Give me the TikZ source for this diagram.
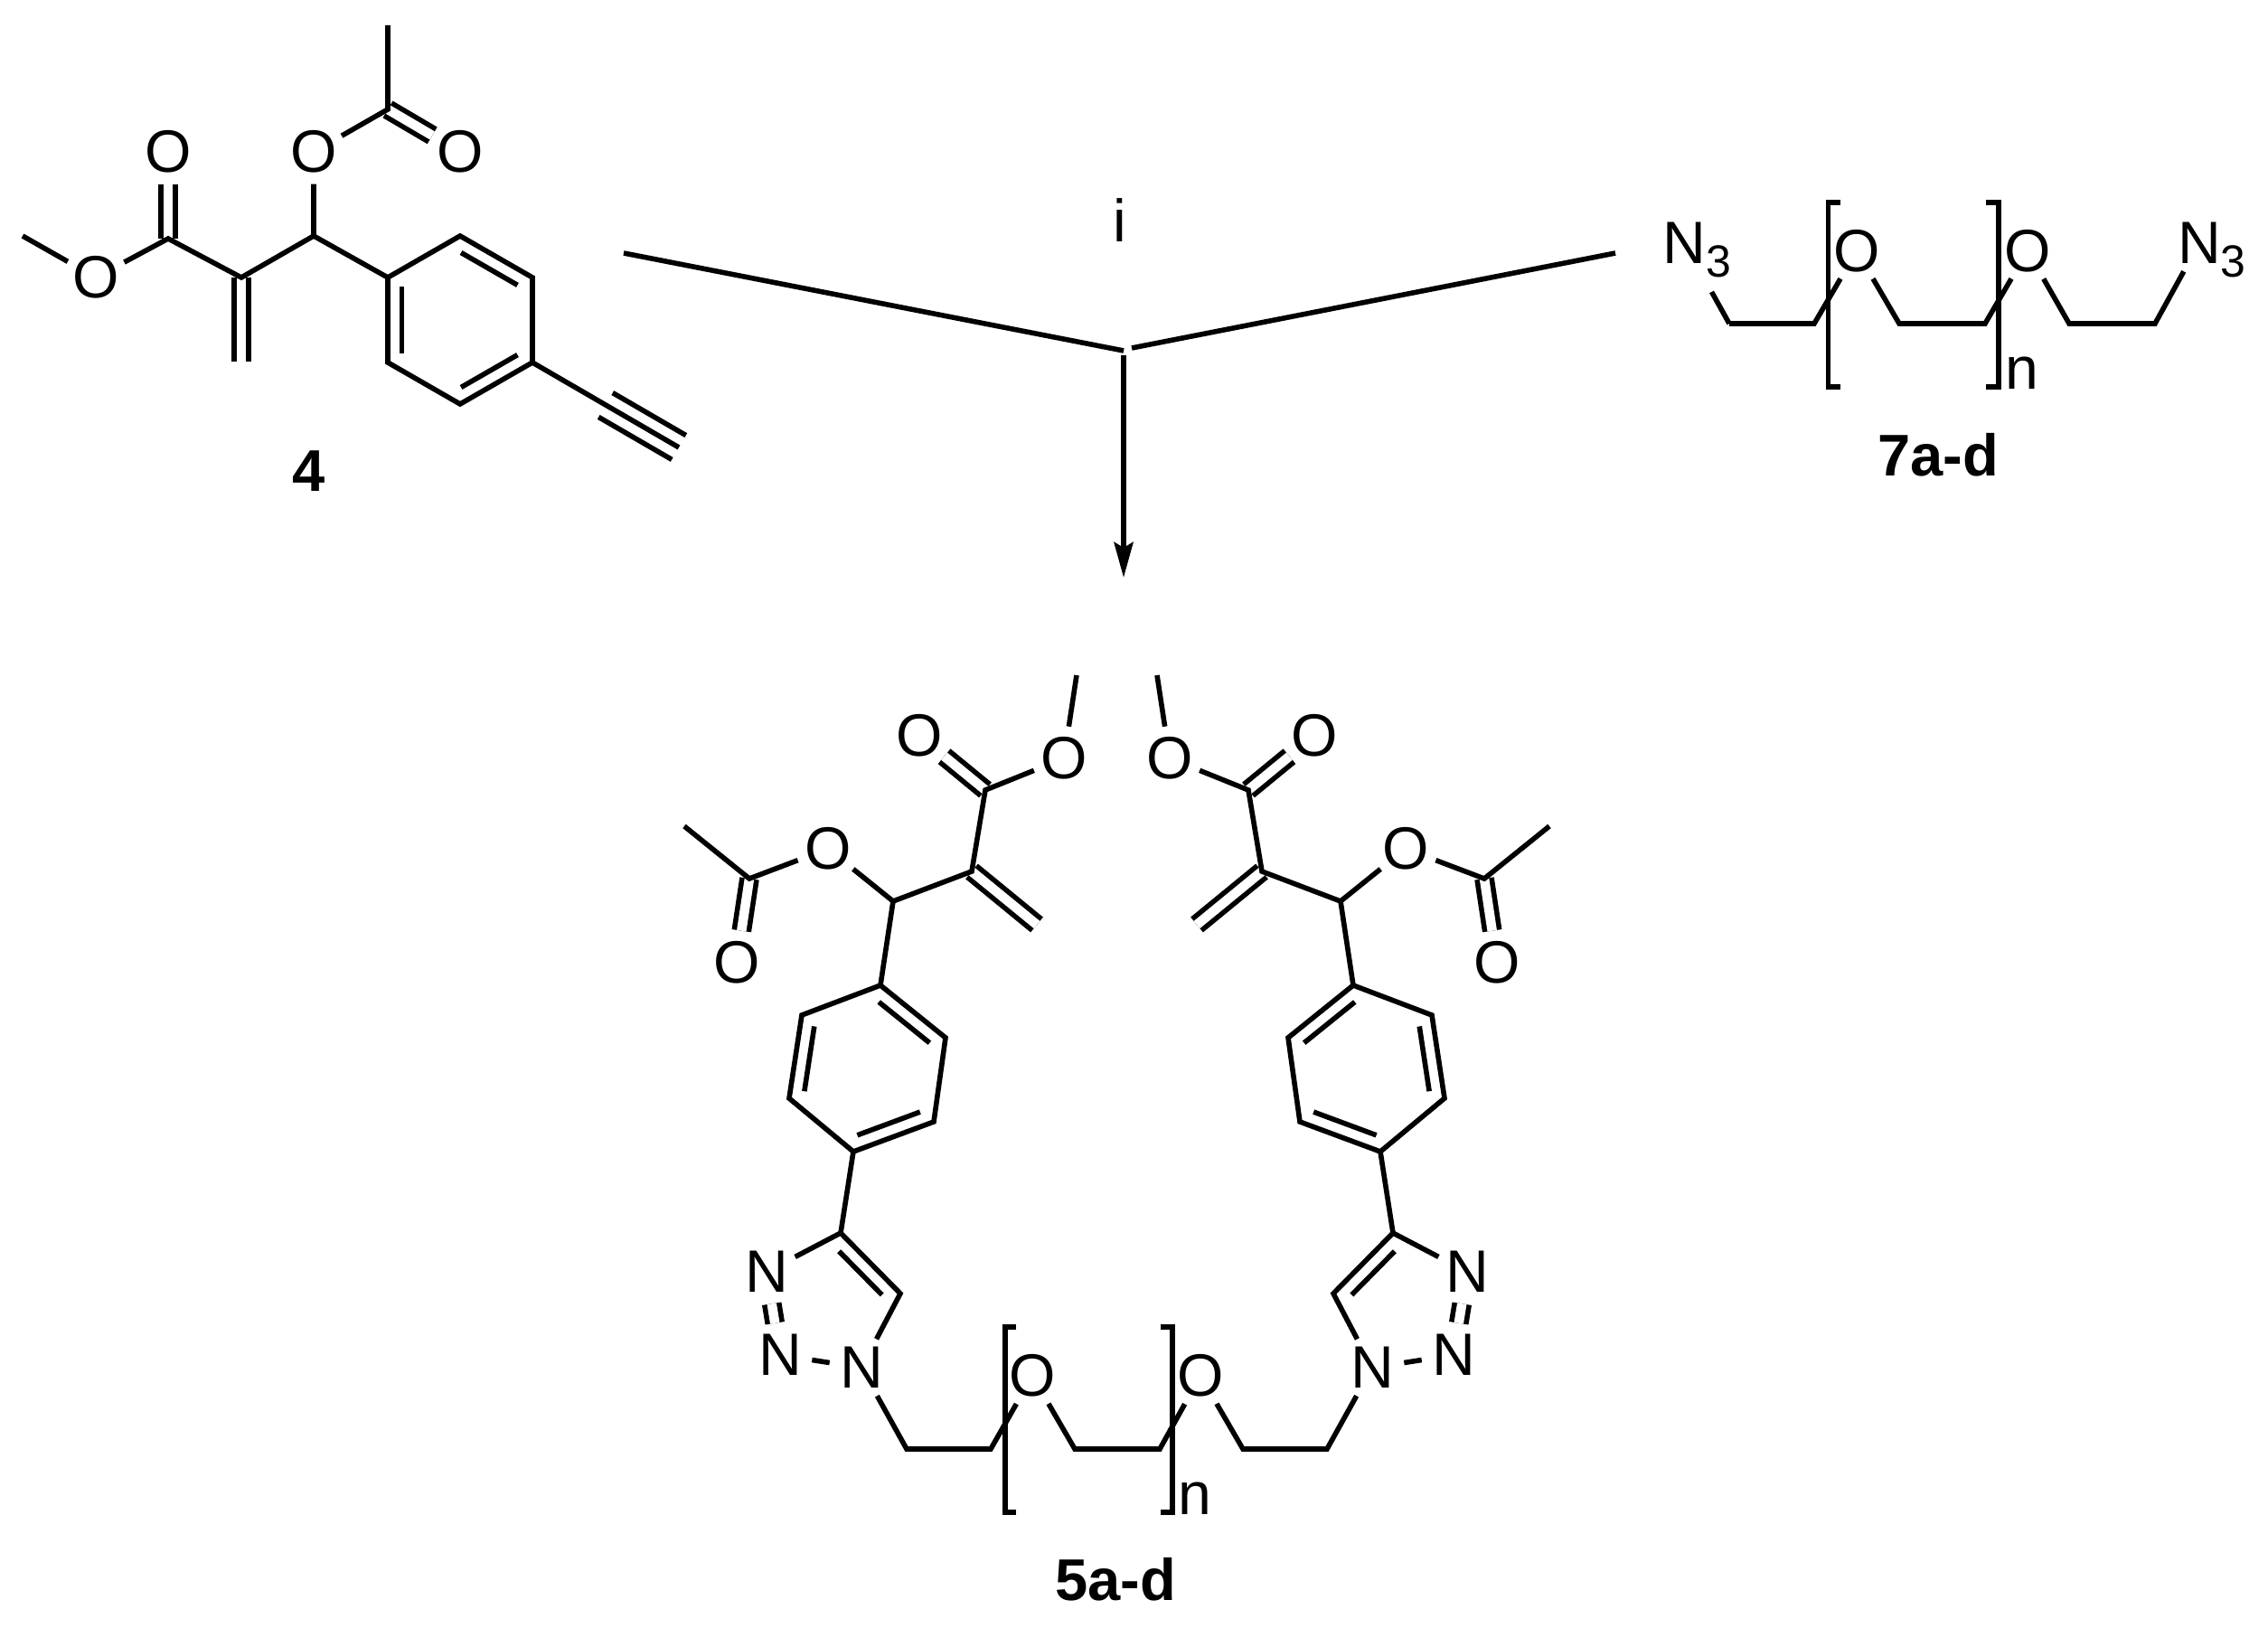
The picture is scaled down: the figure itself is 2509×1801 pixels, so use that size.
\documentclass[tikz,border=0pt]{standalone}
\usepackage{fontspec}
\setmainfont{Liberation Sans}
\usetikzlibrary{calc,arrows.meta}
\tikzset{
  bond/.style={line width=0.056cm},
  dbl/.style={line width=0.056cm,double,double distance=0.105cm},
  atom/.style={circle,inner sep=0pt,minimum size=0.7cm,font=\fontsize{18.8}{20}\selectfont},
  tag/.style={inner sep=0pt,font=\fontsize{18.5}{20}\selectfont\bfseries}
}
\newcommand{\innerbond}[3][.11]{\draw[bond] ($(#2)!#1!(#3)!.155cm!-90:(#3)$)--($(#3)!#1!(#2)!.155cm!90:(#2)$);}
\newcommand{\subthree}{\rlap{\smash{\raisebox{-0.144cm}{\fontsize{14.2}{16}\selectfont 3}}}}
\begin{document}
\begin{tikzpicture}[x=0.01cm,y=-0.01cm]
\useasboundingbox (0,0) rectangle (2509,1801);
% compound 4
\coordinate (a0) at (25,261);
\node[atom] (a1) at (106,307) {O};
\coordinate (a2) at (186,264);
\node[atom] (a3) at (186,168) {O};
\coordinate (a4) at (267,307);
\coordinate (a5) at (267,400);
\coordinate (a6) at (347,261);
\node[atom] (a7) at (347,168) {O};
\coordinate (a8) at (429,121);
\coordinate (a9) at (429,28);
\node[atom] (a10) at (509,168) {O};
\coordinate (r1) at (429,307);
\coordinate (r2) at (509,261);
\coordinate (r3) at (589,307);
\coordinate (r4) at (589,401);
\coordinate (r5) at (509,447);
\coordinate (r6) at (429,401);
\coordinate (t1) at (670,448);
\coordinate (t2) at (751,495);
\node[tag] (l4) at (342,521) {4};
\draw[dbl] (a3)--(a2);
\draw[dbl] (a4)--(a5);
\draw[dbl] (a8)--(a10);
\draw[bond] (a0)--(a1)--(a2)--(a4)--(a6)--(a7)--(a8)--(a9);
\draw[bond] (a6)--(r1);
\draw[bond] (r1)--(r2)--(r3)--(r4)--(r5)--(r6)--cycle;
\innerbond{r6}{r1}
\innerbond{r2}{r3}
\innerbond{r4}{r5}
\draw[bond] (r4)--(t2);
\draw[bond] ($(t1)!.155cm!90:(t2)$)--($(t2)!.155cm!-90:(t1)$);
\draw[bond] ($(t1)!.155cm!-90:(t2)$)--($(t2)!.155cm!90:(t1)$);
% reaction arrow
\coordinate (j1) at (690,280);
\coordinate (j2) at (1787,280);
\coordinate (j3) at (1243,388);
\coordinate (j4) at (1252,385);
\coordinate (j5) at (1243,393);
\coordinate (j6) at (1243,639);
\node[atom] (i) at (1239,244) {i};
\draw[bond] (j1)--(j3);
\draw[bond] (j2)--(j4);
\draw[bond,-{Stealth[length=0.39cm,width=0.21cm,inset=0.06cm]}] (j5)--(j6);
% compound 7a-d
\node[atom] (n1) at (1863.5,269) {N\subthree};
\coordinate (c1) at (1913,358);
\coordinate (c2) at (2007,358);
\node[atom] (o1) at (2054,277.5) {O};
\coordinate (c3) at (2101,358);
\coordinate (c4) at (2196,358);
\node[atom] (o2) at (2243,277.5) {O};
\coordinate (c5) at (2289,358);
\coordinate (c6) at (2384,358);
\node[atom] (n2) at (2433,269) {N\subthree};
\draw[bond,shorten <=0.26cm] (n1)--(c1);
\draw[bond] (c1)--(c2)--(o1)--(c3)--(c4)--(o2)--(c5)--(c6)--(n2);
\coordinate (b1) at (2036,224);
\coordinate (b2) at (2022.5,224);
\coordinate (b3) at (2022.5,428);
\coordinate (b4) at (2036,428);
\coordinate (b5) at (2197,224);
\coordinate (b6) at (2211,224);
\coordinate (b7) at (2211,428);
\coordinate (b8) at (2197,428);
\draw[bond] (b1)--(b2)--(b3)--(b4);
\draw[bond] (b5)--(b6)--(b7)--(b8);
\node[atom] (n3) at (2237,413) {n};
\node[tag] (l7) at (2144,503) {7a-d};
% compound 5a-d, left half
\coordinate (d0) at (1191,747);
\node[atom] (d1) at (1177,839) {O};
\coordinate (d2) at (1090,874);
\node[atom] (d3) at (1017,814) {O};
\coordinate (d4) at (1075,964);
\coordinate (d5) at (1147,1023);
\coordinate (d6) at (988,997);
\node[atom] (d7) at (916,939) {O};
\coordinate (d8) at (829,972);
\coordinate (d9) at (757,914);
\node[atom] (d10) at (815,1065) {O};
\coordinate (e1) at (974,1090);
\coordinate (e2) at (1046,1148);
\coordinate (e3) at (1033,1241);
\coordinate (e4) at (944,1274);
\coordinate (e5) at (873,1215);
\coordinate (e6) at (887,1123);
\coordinate (f1) at (930,1364);
\coordinate (f2) at (996,1431);
\node[atom] (f3) at (953,1513) {N};
\node[atom] (f4) at (863,1499) {N};
\node[atom] (f5) at (848,1407) {N};
\draw[dbl] (d3)--(d2);
\draw[dbl] (d4)--(d5);
\draw[dbl] (d8)--(d10);
\draw[bond] (d0)--(d1)--(d2)--(d4)--(d6)--(d7)--(d8)--(d9);
\draw[bond] (d6)--(e1);
\draw[bond] (e1)--(e2)--(e3)--(e4)--(e5)--(e6)--cycle;
\innerbond{e1}{e2}
\innerbond{e3}{e4}
\innerbond{e5}{e6}
\draw[bond] (e4)--(f1)--(f2)--(f3)--(f4);
\draw[dbl] (f4)--(f5);
\draw[bond] (f5)--(f1);
\innerbond[.14]{f1}{f2}
% compound 5a-d, right half
\coordinate (g0) at (1280,747);
\node[atom] (g1) at (1294,839) {O};
\coordinate (g2) at (1381,874);
\node[atom] (g3) at (1454,814) {O};
\coordinate (g4) at (1396,964);
\coordinate (g5) at (1324,1023);
\coordinate (g6) at (1483,997);
\node[atom] (g7) at (1555,939) {O};
\coordinate (g8) at (1642,972);
\coordinate (g9) at (1714,914);
\node[atom] (g10) at (1656,1065) {O};
\coordinate (h1) at (1497,1090);
\coordinate (h2) at (1425,1148);
\coordinate (h3) at (1438,1241);
\coordinate (h4) at (1527,1274);
\coordinate (h5) at (1598,1215);
\coordinate (h6) at (1584,1123);
\coordinate (k1) at (1541,1364);
\coordinate (k2) at (1475,1431);
\node[atom] (k3) at (1518,1513) {N};
\node[atom] (k4) at (1608,1499) {N};
\node[atom] (k5) at (1623,1407) {N};
\draw[dbl] (g3)--(g2);
\draw[dbl] (g4)--(g5);
\draw[dbl] (g8)--(g10);
\draw[bond] (g0)--(g1)--(g2)--(g4)--(g6)--(g7)--(g8)--(g9);
\draw[bond] (g6)--(h1);
\draw[bond] (h1)--(h2)--(h3)--(h4)--(h5)--(h6)--cycle;
\innerbond{h2}{h1}
\innerbond{h4}{h3}
\innerbond{h6}{h5}
\draw[bond] (h4)--(k1)--(k2)--(k3)--(k4);
\draw[dbl] (k4)--(k5);
\draw[bond] (k5)--(k1);
\innerbond[.14]{k2}{k1}
% compound 5a-d, linker
\coordinate (m1) at (1003,1603);
\coordinate (m2) at (1096,1603);
\node[atom] (p1) at (1142,1522) {O};
\coordinate (m3) at (1189,1603);
\coordinate (m4) at (1283,1603);
\node[atom] (p2) at (1328,1522) {O};
\coordinate (m5) at (1375,1603);
\coordinate (m6) at (1468,1603);
\draw[bond] (f3)--(m1)--(m2)--(p1)--(m3)--(m4)--(p2)--(m5)--(m6)--(k3);
\coordinate (q1) at (1124,1468);
\coordinate (q2) at (1112,1468);
\coordinate (q3) at (1112,1673);
\coordinate (q4) at (1124,1673);
\coordinate (q5) at (1284,1468);
\coordinate (q6) at (1297,1468);
\coordinate (q7) at (1297,1673);
\coordinate (q8) at (1284,1673);
\draw[bond] (q1)--(q2)--(q3)--(q4);
\draw[bond] (q5)--(q6)--(q7)--(q8);
\node[atom] (n4) at (1322,1658) {n};
\node[tag] (l5) at (1234,1747) {5a-d};
\end{tikzpicture}
\end{document}
